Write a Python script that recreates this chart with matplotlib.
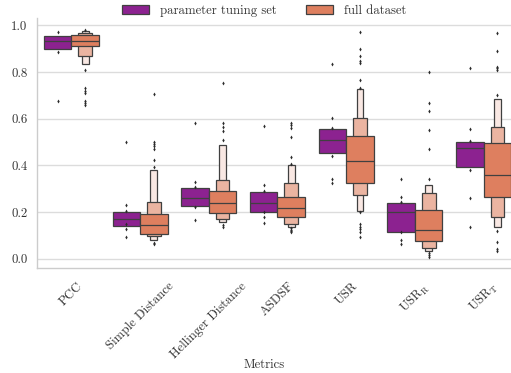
import matplotlib
matplotlib.use("Agg")
import matplotlib.pyplot as plt
from matplotlib.patches import Patch

plt.rcParams["font.family"] = "serif"
plt.rcParams["font.serif"] = ["cmr10", "DejaVu Serif"]
plt.rcParams["mathtext.fontset"] = "cm"
plt.rcParams["axes.formatter.use_mathtext"] = True

FS = 9.2

metrics = ["PCC", "Simple Distance", "Hellinger Distance", "ASDSF", "USR",
           r"USR$_\mathrm{R}$", r"USR$_\mathrm{T}$"]
hue_labels = ["parameter tuning set", "full dataset"]

# parameter tuning set: quartile box (low, high), median, outliers
tuning_boxes = [(0.899, 0.954), (0.141, 0.199), (0.226, 0.303), (0.201, 0.284),
                (0.451, 0.554), (0.116, 0.239), (0.391, 0.498)]
tuning_medians = [0.934, 0.169, 0.261, 0.238, 0.508, 0.199, 0.474]
tuning_outliers = [
    [0.971, 0.884, 0.675],
    [0.498, 0.230, 0.204, 0.147, 0.128, 0.094],
    [0.580, 0.327, 0.308, 0.220, 0.166],
    [0.568, 0.316, 0.290, 0.199, 0.180, 0.153],
    [0.835, 0.605, 0.560, 0.440, 0.340, 0.323],
    [0.341, 0.264, 0.244, 0.114, 0.081, 0.062],
    [0.818, 0.557, 0.503, 0.381, 0.259, 0.134],
]

# full dataset: letter-value boxes from the quartiles outward
full_levels = [
    [(0.910, 0.958), (0.868, 0.968), (0.833, 0.975)],
    [(0.107, 0.191), (0.096, 0.242), (0.079, 0.379)],
    [(0.194, 0.291), (0.169, 0.337), (0.156, 0.486)],
    [(0.177, 0.264), (0.147, 0.323), (0.137, 0.401)],
    [(0.323, 0.524), (0.271, 0.604), (0.204, 0.727)],
    [(0.077, 0.207), (0.045, 0.280), (0.034, 0.316)],
    [(0.263, 0.497), (0.180, 0.565), (0.134, 0.683)],
]
full_medians = [0.932, 0.144, 0.237, 0.218, 0.420, 0.122, 0.358]
full_outliers = [
    [0.982, 0.807, 0.730, 0.720, 0.711, 0.677, 0.668, 0.658],
    [0.704, 0.501, 0.491, 0.481, 0.471, 0.423, 0.391, 0.069, 0.064],
    [0.754, 0.582, 0.565, 0.548, 0.510, 0.144, 0.137],
    [0.581, 0.571, 0.561, 0.520, 0.437, 0.406, 0.133, 0.125, 0.118, 0.113],
    [0.971, 0.898, 0.869, 0.845, 0.837, 0.767, 0.731,
     0.199, 0.149, 0.137, 0.126, 0.114, 0.094],
    [0.798, 0.668, 0.634, 0.553, 0.471, 0.341, 0.023, 0.016, 0.009],
    [0.968, 0.889, 0.822, 0.815, 0.808, 0.700, 0.120, 0.073, 0.040, 0.033],
]

purple_levels = ["#8c2290"]
orange_levels = ["#de7f5f", "#ebb4a1", "#f9e8e3"]
edge = "#404040"
text_color = "#333333"

fig = plt.figure(figsize=(5.11, 3.73), dpi=100)
ax = fig.add_axes([0.0724, 0.2823, 0.9413, 0.6694])

box_w = 0.4
offsets = [-0.2, 0.2]


def draw_group(x, levels, median, outliers, colors, base_z):
    n = len(levels)
    for k in range(n - 1, -1, -1):
        lo, hi = levels[k]
        w = box_w * 0.5 ** k
        ax.bar(x, hi - lo, bottom=lo, width=w, color=colors[k],
               edgecolor=edge, linewidth=0.9, zorder=base_z + (n - k))
    ax.plot([x - box_w / 2, x + box_w / 2], [median, median], color=edge,
            linewidth=0.9, zorder=base_z + n + 1, solid_capstyle="butt")
    ax.scatter([x] * len(outliers), outliers, marker="d", s=4, color="#2b2b2b",
               linewidths=0, zorder=base_z + n + 2)


for i in range(len(metrics)):
    draw_group(i + offsets[0], [tuning_boxes[i]], tuning_medians[i],
               tuning_outliers[i], purple_levels, 3)
    draw_group(i + offsets[1], full_levels[i], full_medians[i],
               full_outliers[i], orange_levels, 3)

ax.set_xlim(-0.5, len(metrics) - 0.5)
ax.set_ylim(-0.0386, 1.0313)
ax.set_yticks([0.0, 0.2, 0.4, 0.6, 0.8, 1.0])
ax.set_yticklabels(["0.0", "0.2", "0.4", "0.6", "0.8", "1.0"])
ax.set_xticks(range(len(metrics)))
ax.set_xticklabels(metrics, rotation=45, ha="center")

ax.yaxis.grid(True, color="#dcdcdc", linewidth=1.0, zorder=0)
ax.set_axisbelow(True)
for s in ["top", "right"]:
    ax.spines[s].set_visible(False)
for s in ["left", "bottom"]:
    ax.spines[s].set_color("#cccccc")
    ax.spines[s].set_linewidth(1.0)
ax.tick_params(axis="both", length=0, labelsize=FS, colors=text_color)
ax.tick_params(axis="y", pad=7)
ax.tick_params(axis="x", pad=9)

ax.set_xlabel("Metrics", fontsize=FS, color=text_color)
ax.xaxis.set_label_coords(0.472, -0.364)

handles = [Patch(facecolor=purple_levels[0], edgecolor=edge, linewidth=0.9),
           Patch(facecolor=orange_levels[0], edgecolor=edge, linewidth=0.9)]
fig.legend(handles, hue_labels, loc="center", bbox_to_anchor=(0.517, 0.972),
           ncol=2, frameon=False, fontsize=FS, handlelength=2.1,
           handleheight=0.7, handletextpad=0.86, columnspacing=2.27,
           labelcolor=text_color)

fig.savefig("out.png", dpi=100)
